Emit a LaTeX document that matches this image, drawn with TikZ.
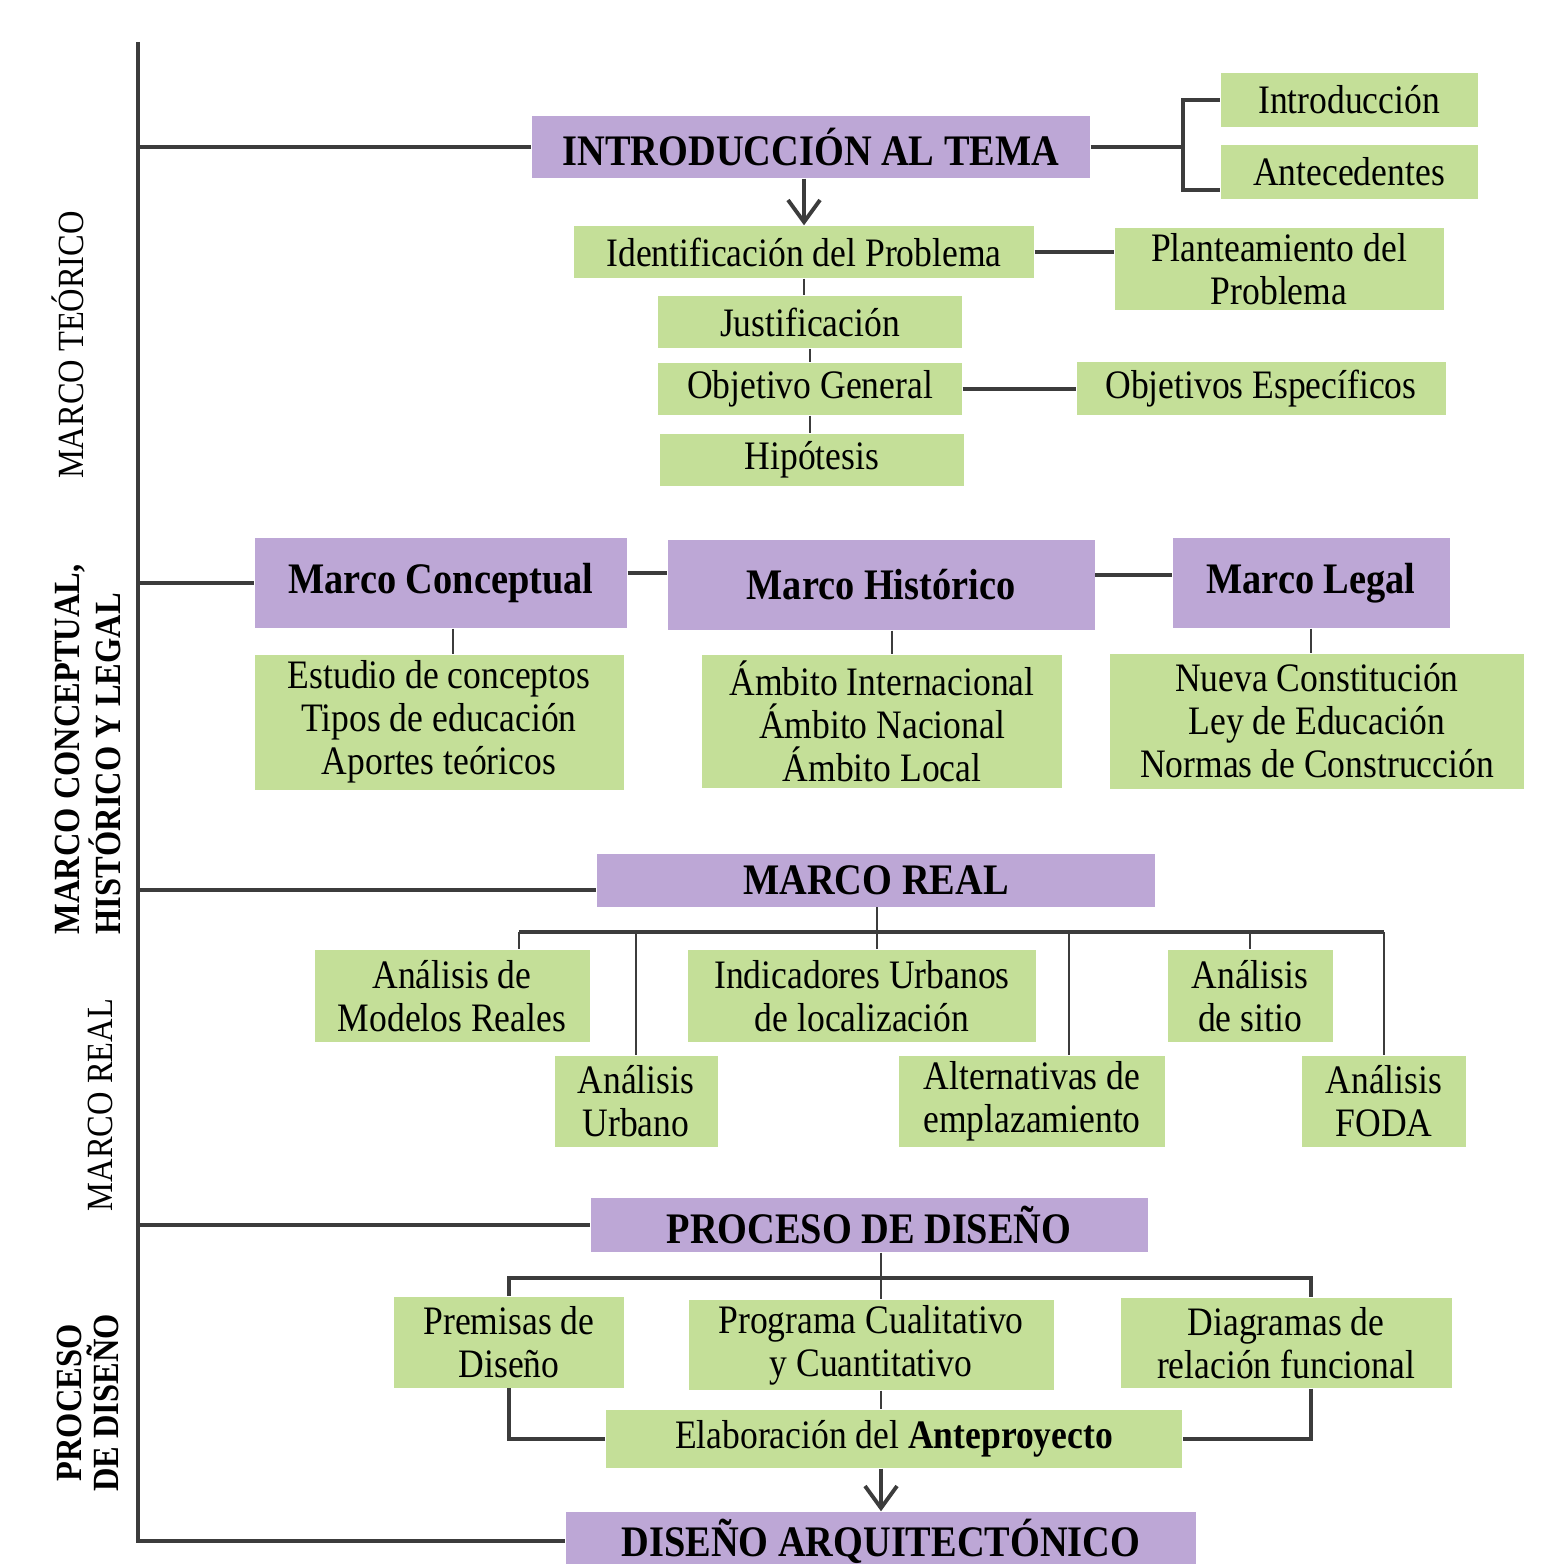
\documentclass[tikz,border=0pt]{standalone}
\usepackage{fontspec}
\setmainfont{Liberation Serif}[FakeStretch=0.88]
\usetikzlibrary{arrows.meta}
\definecolor{lilac}{RGB}{189,167,214}
\definecolor{leaf}{RGB}{196,223,152}
\definecolor{wire}{RGB}{60,60,60}
\tikzstyle{blockpurple} = [rectangle, fill=lilac, inner sep=0pt, text centered, font=\fontsize{12.4}{13}\selectfont\bfseries]
\tikzstyle{blockgreen} = [rectangle, fill=leaf, inner sep=0pt, align=center, font=\fontsize{11.5}{12.2}\selectfont]
\tikzstyle{sidelabel} = [rotate=90, inner sep=0pt, font=\fontsize{10.5}{10.5}\selectfont]
\tikzstyle{link} = [draw=wire, line width=1.1pt]
\tikzstyle{thinlink} = [draw=wire, line width=0.8pt]
\tikzstyle{arrowlink} = [link, -{Straight Barb[length=2.2mm,width=3.2mm]}]

\begin{document}
\begin{tikzpicture}[x=0.1mm, y=-0.1mm]
\useasboundingbox (0,0) rectangle (1561,1564);

% marco teorico
\node (intro) [blockpurple, minimum width=5.58cm, minimum height=0.62cm] at (811,147) {INTRODUCCIÓN AL TEMA};
\node (introd) [blockgreen, minimum width=2.57cm, minimum height=0.54cm] at (1349,100) {Introducción};
\node (antec) [blockgreen, minimum width=2.57cm, minimum height=0.54cm] at (1349,172) {Antecedentes};
\node (ident) [blockgreen, minimum width=4.60cm, minimum height=0.52cm] at (804,252) {Identificación del Problema};
\node (plant) [blockgreen, minimum width=3.29cm, minimum height=0.82cm] at (1279,269) {Planteamiento del\\Problema};
\node (just) [blockgreen, minimum width=3.04cm, minimum height=0.52cm] at (810,322) {Justificación};
\node (obj) [blockgreen, minimum width=3.04cm, minimum height=0.52cm] at (810,389) {Objetivo General};
\node (objesp) [blockgreen, minimum width=3.69cm, minimum height=0.53cm] at (1261,389) {Objetivos Específicos};
\node (hip) [blockgreen, minimum width=3.04cm, minimum height=0.52cm] at (812,460) {Hipótesis};

% marcos conceptual, historico y legal
\node (conc) [blockpurple, minimum width=3.72cm, minimum height=0.90cm] at (441,583) {Marco Conceptual};
\node (hist) [blockpurple, minimum width=4.27cm, minimum height=0.90cm] at (881,585) {Marco Histórico};
\node (legal) [blockpurple, minimum width=2.77cm, minimum height=0.90cm] at (1311,583) {Marco Legal};
\node (estudio) [blockgreen, minimum width=3.69cm, minimum height=1.35cm] at (439,722) {Estudio de conceptos\\Tipos de educación\\Aportes teóricos};
\node (ambito) [blockgreen, minimum width=3.60cm, minimum height=1.33cm] at (882,721) {Ámbito Internacional\\Ámbito Nacional\\Ámbito Local};
\node (normas) [blockgreen, minimum width=4.14cm, minimum height=1.35cm] at (1317,721) {Nueva Constitución\\Ley de Educación\\Normas de Construcción};

% marco real
\node (real) [blockpurple, minimum width=5.58cm, minimum height=0.53cm] at (876,880) {MARCO REAL};
\node (modelos) [blockgreen, minimum width=2.75cm, minimum height=0.92cm] at (452,996) {Análisis de\\Modelos Reales};
\node (urbano) [blockgreen, minimum width=1.63cm, minimum height=0.91cm] at (636,1101) {Análisis\\Urbano};
\node (indic) [blockgreen, minimum width=3.48cm, minimum height=0.92cm] at (862,996) {Indicadores Urbanos\\de localización};
\node (altern) [blockgreen, minimum width=2.66cm, minimum height=0.91cm] at (1032,1101) {Alternativas de\\emplazamiento};
\node (sitio) [blockgreen, minimum width=1.65cm, minimum height=0.92cm] at (1250,996) {Análisis\\de sitio};
\node (foda) [blockgreen, minimum width=1.64cm, minimum height=0.91cm] at (1384,1101) {Análisis\\FODA};

% proceso de diseno
\node (proceso) [blockpurple, minimum width=5.57cm, minimum height=0.54cm] at (869,1225) {PROCESO DE DISEÑO};
\node (premisas) [blockgreen, minimum width=2.30cm, minimum height=0.91cm] at (509,1342) {Premisas de\\Diseño};
\node (programa) [blockgreen, minimum width=3.65cm, minimum height=0.90cm] at (871,1345) {Programa Cualitativo\\y Cuantitativo};
\node (diagr) [blockgreen, minimum width=3.31cm, minimum height=0.90cm] at (1286,1343) {Diagramas de\\relación funcional};
\node (elab) [blockgreen, minimum width=5.76cm, minimum height=0.58cm] at (894,1439) {Elaboración del \textbf{Anteproyecto}};
\node (diseno) [blockpurple, minimum width=6.30cm, minimum height=0.58cm] at (881,1541) {DISEÑO ARQUITECTÓNICO};

% side labels
\node (lblteo) [sidelabel] at (68,345) {MARCO TEÓRICO};
\node (lblmarcos) [sidelabel, anchor=west, align=left, font=\fontsize{10.5}{10.5}\selectfont\bfseries] at (88,935) {MARCO CONCEPTUAL,\\HISTÓRICO Y LEGAL};
\node (lblreal) [sidelabel] at (100,1105) {MARCO REAL};
\node (lblproc) [sidelabel, align=center, font=\fontsize{10.5}{10.5}\selectfont\bfseries] at (88,1403) {PROCESO\\DE DISEÑO};

% spine
\coordinate (top) at (138,42);
\draw [link] (top) -- (top |- diseno.west) -- (diseno.west);
\draw [link] (top |- intro.west) -- (intro.west);
\draw [link] (top |- conc.west) -- (conc.west);
\draw [link] ([yshift=-1mm]real.west -| top) -- ([yshift=-1mm]real.west);
\draw [link] (top |- proceso.west) -- (proceso.west);

% intro links
\coordinate (brk) at (1183,147);
\draw [link] (intro.east) -- (brk);
\draw [link] (introd.west) -| (brk) |- ([yshift=1mm]antec.south west);
\draw [arrowlink] (intro.south -| ident.north) -- (ident.north);
\draw [link] (ident.east) -- (ident.east -| plant.west);
\draw [thinlink] (ident.south) -- (ident.south |- just.north);
\draw [thinlink] (just.south) -- (obj.north);
\draw [link] (obj.east) -- (objesp.west);
\draw [thinlink] (obj.south) -- (obj.south |- hip.north);

% marcos links
\draw [link] ([yshift=1mm]conc.east) -- ([yshift=1mm]conc.east -| hist.west);
\draw [link] ([yshift=1mm]hist.east) -- ([yshift=1mm]hist.east -| legal.west);
\draw [thinlink] ([xshift=1.2mm]conc.south) -- ([xshift=1.2mm]conc.south |- estudio.north);
\draw [thinlink] ([xshift=1.1mm]hist.south) -- ([xshift=1.1mm]hist.south |- ambito.north);
\draw [thinlink] (legal.south) -- (legal.south |- normas.north);

% marco real links
\coordinate (rbar) at (877,932);
\draw [link] ([xshift=6.7mm]modelos.north |- rbar) -- (foda.north |- rbar);
\draw [thinlink] (real.south -| rbar) -- (rbar |- indic.north);
\draw [thinlink] ([xshift=6.7mm]modelos.north |- rbar) -- ([xshift=6.7mm]modelos.north);
\draw [thinlink] (urbano.north |- rbar) -- (urbano.north);
\draw [thinlink] ([xshift=3.7mm]altern.north |- rbar) -- ([xshift=3.7mm]altern.north);
\draw [thinlink] (sitio.north |- rbar) -- (sitio.north);
\draw [thinlink] (foda.north |- rbar) -- (foda.north);

% proceso links
\coordinate (pbar) at (881,1278);
\draw [link] (premisas.north) |- ([xshift=2.5mm]diagr.north |- pbar) -- ([xshift=2.5mm]diagr.north);
\draw [thinlink] (pbar |- proceso.south) -- (pbar |- programa.north);
\draw [thinlink] (pbar |- programa.south) -- (pbar |- elab.north);
\draw [link] (premisas.south) |- (elab.west);
\draw [link] ([xshift=2.5mm]diagr.south) |- (elab.east);
\draw [arrowlink] (elab.south -| diseno.north) -- (diseno.north);

\end{tikzpicture}
\end{document}
